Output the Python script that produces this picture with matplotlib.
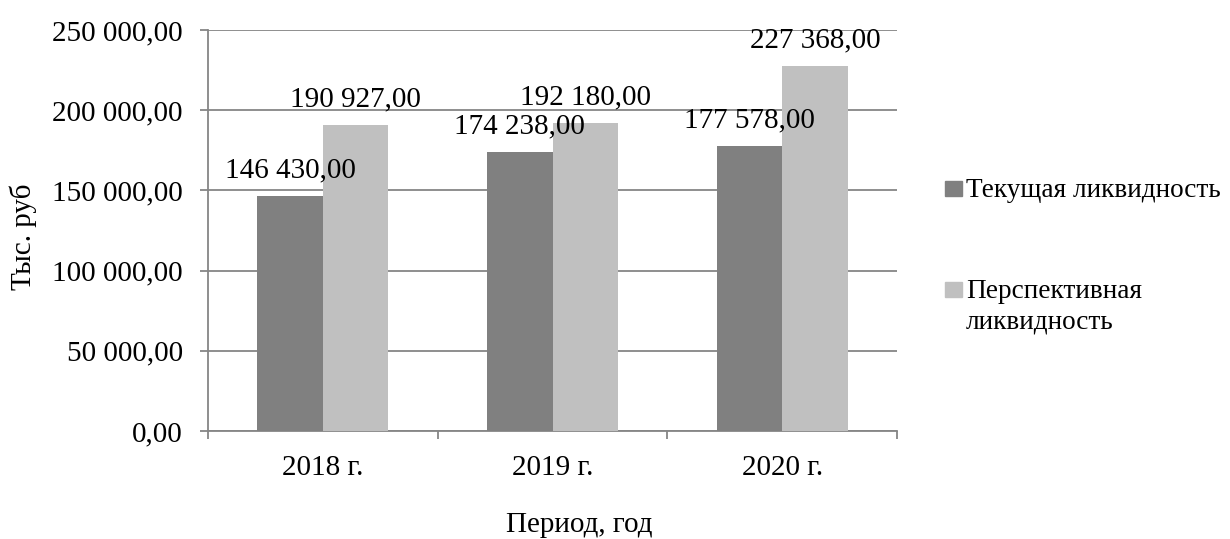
import matplotlib.pyplot as plt
import numpy as np
from matplotlib.patches import Rectangle

# --------- Данные ---------
periods = ['2018 г.', '2019 г.', '2020 г.']
series_names = ['Текущая ликвидность', 'Перспективная\nликвидность']
current_liq = [146430.00, 174238.00, 177578.00]
future_liq = [190927.00, 192180.00, 227368.00]
colors = ['#808080', '#C0C0C0']

def fmt_num(v):
    return f"{v:,.2f}".replace(",", " ").replace(".", ",")

plt.rcParams['font.family'] = ['Liberation Serif', 'DejaVu Serif']
fs = 21

fig = plt.figure(figsize=(12.3, 5.39), dpi=100)
ax = fig.add_axes([208 / 1230, 1 - 431 / 539, 689 / 1230, 401 / 539])

x = np.arange(len(periods))
w = 1 / 3.5  # ширина столбца при зазоре 150%
for i, (vals, c) in enumerate(zip([current_liq, future_liq], colors)):
    pos = x + (i - 0.5) * w
    bars = ax.bar(pos, vals, width=w, color=c, zorder=3)
    ax.bar_label(bars, labels=[fmt_num(v) for v in vals], padding=9,
                 fontsize=fs, zorder=4)

ax.set_xlim(-0.5, len(periods) - 0.5)
ax.set_ylim(0, 250000)
ax.set_yticks(np.arange(0, 250001, 50000))
ax.set_yticklabels([fmt_num(v) for v in np.arange(0, 250001, 50000)], fontsize=fs)
ax.yaxis.grid(True, color='#868686', linewidth=1.3, zorder=0)

ax.set_xticks(x)
ax.set_xticklabels(periods, fontsize=fs)
ax.tick_params(axis='x', length=0, pad=17)
ax.set_xticks(np.arange(-0.5, len(periods)), minor=True)
ax.tick_params(axis='x', which='minor', length=6, color='#868686', width=1.3)
ax.tick_params(axis='y', length=6, color='#868686', width=1.3, pad=12)

for s in ['top', 'right']:
    ax.spines[s].set_visible(False)
for s in ['left', 'bottom']:
    ax.spines[s].set_color('#868686')
    ax.spines[s].set_linewidth(1.3)

fig.text(23 / 1230, 1 - 237 / 539, 'Тыс. руб', rotation=90, fontsize=fs,
         ha='center', va='center')
fig.text(579 / 1230, 1 - 525 / 539, 'Период, год', fontsize=fs,
         ha='center', va='center')

# --------- Легенда ---------
legend_fs = 19.6
legend_y = [197, 298]
for name, c, yb in zip(series_names, colors, legend_y):
    fig.patches.append(Rectangle((945 / 1230, 1 - (yb - 1) / 539), 17 / 1230, 15 / 539,
                                 transform=fig.transFigure, color=c))
    for k, line in enumerate(name.split('\n')):
        fig.text(966 / 1230, 1 - (yb + 30 * k) / 539, line, fontsize=legend_fs,
                 ha='left', va='baseline')

fig.savefig('out.png', dpi=100)
